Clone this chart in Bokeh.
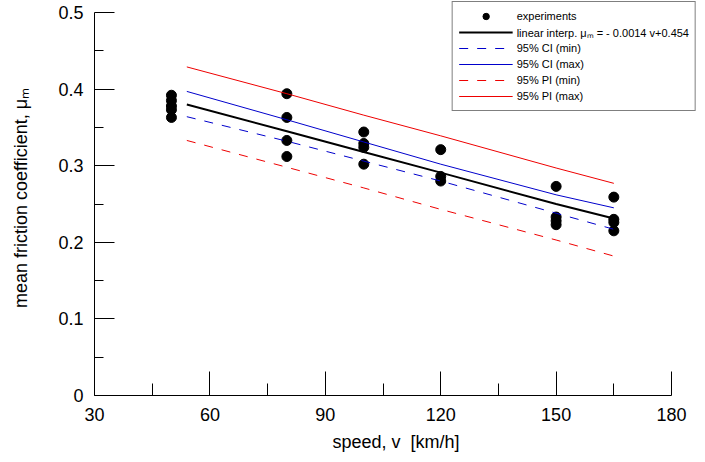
from bokeh.plotting import figure
from bokeh.models import Range1d, FixedTicker, Legend, LegendItem
from bokeh.embed import file_html
from bokeh.resources import INLINE

# experimental points
speed_exp = [50, 50, 50, 50, 50,
             80, 80, 80, 80,
             100, 100, 100, 100,
             120, 120, 120,
             150, 150, 150, 150,
             165, 165, 165, 165]
mu_exp = [0.392, 0.385, 0.378, 0.373, 0.363,
          0.394, 0.363, 0.333, 0.312,
          0.344, 0.329, 0.324, 0.302,
          0.321, 0.286, 0.280,
          0.273, 0.233, 0.228, 0.223,
          0.259, 0.230, 0.226, 0.215]

# regression and bands
fit_speed = [54, 80, 100, 120, 150, 165]
fit_mu = [0.380, 0.345, 0.318, 0.291, 0.250, 0.231]
ci_min = [0.364, 0.332, 0.306, 0.280, 0.238, 0.217]
ci_max = [0.397, 0.360, 0.331, 0.302, 0.262, 0.245]
pi_min = [0.333, 0.298, 0.271, 0.243, 0.203, 0.182]
pi_max = [0.429, 0.394, 0.366, 0.339, 0.297, 0.277]

x_ticks = [30, 60, 90, 120, 150, 180]
x_minor = [45, 75, 105, 135, 165]
y_ticks = [0, 0.1, 0.2, 0.3, 0.4, 0.5]
y_tick_labels = ["0", "0.1", "0.2", "0.3", "0.4", "0.5"]
y_minor = [0.05, 0.15, 0.25, 0.35, 0.45]

FONT = "Liberation Sans"

p = figure(width=697, height=454, output_backend="svg", toolbar_location=None,
           x_range=Range1d(30, 186.75), y_range=Range1d(0, 0.5157),
           min_border_left=94, min_border_right=0, min_border_top=0,
           min_border_bottom=59)
p.outline_line_color = None
p.xgrid.visible = False
p.ygrid.visible = False
p.background_fill_color = "white"
p.border_fill_color = "white"

ax = p.xaxis[0]
ax.bounds = (30, 180)
ax.ticker = FixedTicker(ticks=x_ticks, minor_ticks=x_minor)
ax.major_label_overrides = {t: str(t) for t in x_ticks}
ax.axis_label = "speed, v\u00a0 [km/h]"

ay = p.yaxis[0]
ay.bounds = (0, 0.5)
ay.ticker = FixedTicker(ticks=y_ticks, minor_ticks=y_minor)
ay.major_label_overrides = {t: l for t, l in zip(y_ticks, y_tick_labels)}
ay.axis_label = "mean friction coefficient, \u03bc\u2098"

for a in (ax, ay):
    a.axis_line_color = "black"
    a.axis_line_width = 1
    a.major_tick_line_color = "black"
    a.minor_tick_line_color = "black"
    a.major_tick_out = 0
    a.minor_tick_out = 0
    a.major_label_text_font = FONT
    a.major_label_text_font_size = "18px"
    a.major_label_text_color = "black"
    a.axis_label_text_font = FONT
    a.axis_label_text_font_size = "18px"
    a.axis_label_text_font_style = "normal"
    a.axis_label_text_color = "black"

ax.major_tick_in = 24
ax.minor_tick_in = 12
ax.major_label_standoff = 12
ax.axis_label_standoff = 8
ay.major_tick_in = 20
ay.minor_tick_in = 9
ay.major_label_standoff = 11
ay.axis_label_standoff = 24

r_exp = p.scatter(speed_exp, mu_exp, size=10, color="black")
r_fit = p.line(fit_speed, fit_mu, line_color="black", line_width=2)
r_cimin = p.line(fit_speed, ci_min, line_color="#0000CC", line_width=1, line_dash="9 9")
r_cimax = p.line(fit_speed, ci_max, line_color="#0000CC", line_width=1)
r_pimin = p.line(fit_speed, pi_min, line_color="#EE0000", line_width=1, line_dash="9 9")
r_pimax = p.line(fit_speed, pi_max, line_color="#EE0000", line_width=1)

legend = Legend(items=[
    LegendItem(label="experiments", renderers=[r_exp]),
    LegendItem(label="linear interp. \u03bc\u2098 = - 0.0014 v+0.454", renderers=[r_fit]),
    LegendItem(label="95% CI (min)", renderers=[r_cimin]),
    LegendItem(label="95% CI (max)", renderers=[r_cimax]),
    LegendItem(label="95% PI (min)", renderers=[r_pimin]),
    LegendItem(label="95% PI (max)", renderers=[r_pimax]),
], location="top_right")
legend.margin = 1
legend.padding = 6
legend.spacing = 0
legend.glyph_width = 54
legend.glyph_height = 16
legend.label_height = 16
legend.label_standoff = 4
legend.label_text_font = FONT
legend.label_text_font_size = "11px"
legend.label_text_color = "black"
legend.border_line_color = "black"
legend.border_line_width = 1
legend.background_fill_color = "white"
legend.background_fill_alpha = 1
p.add_layout(legend, "center")

open("out.html", "w").write(file_html(p, INLINE))
